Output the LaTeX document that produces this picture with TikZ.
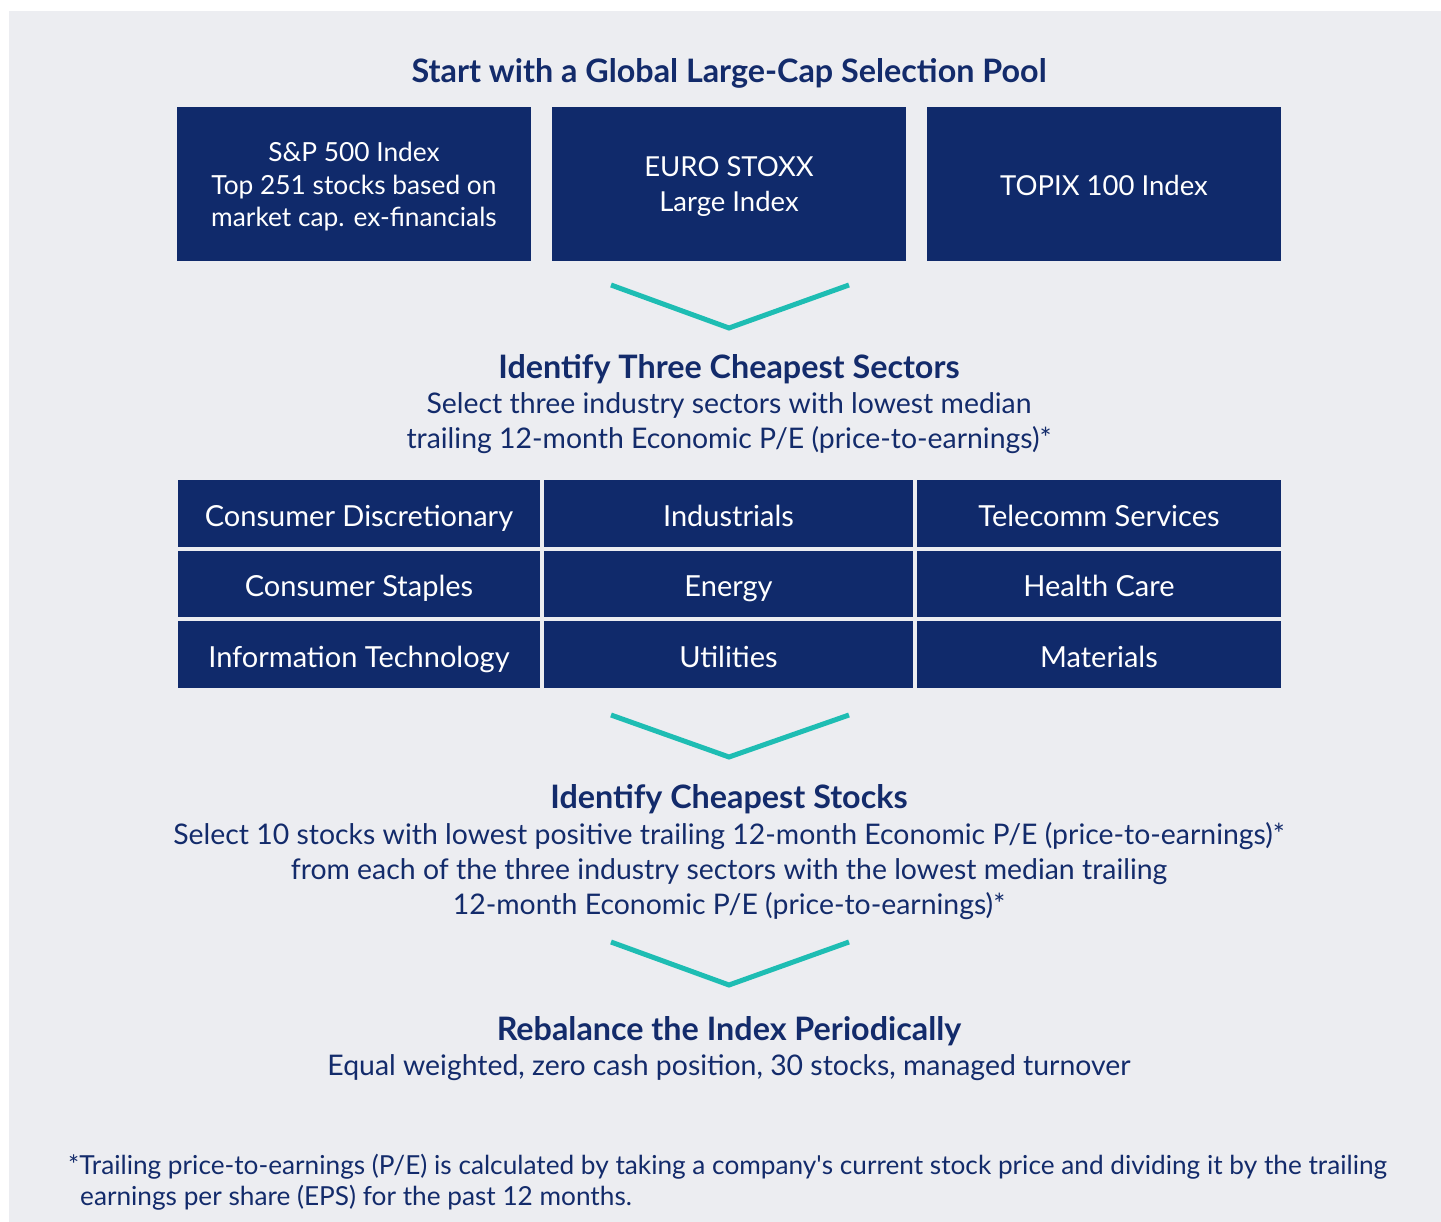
\documentclass[tikz,border=0pt]{standalone}
\usepackage{fontspec}
\setmainfont{Lato}
\definecolor{bgc}{HTML}{ECEDF1}
\definecolor{navy}{HTML}{102A6B}
\definecolor{teal}{HTML}{1EBDB3}
\definecolor{txt}{HTML}{132B6B}
\tikzset{
  topbox/.style={fill=navy, minimum width=354pt, minimum height=154pt, inner sep=0pt},
  boxtext/.style={text=white, inner sep=0pt, align=center, font=\fontsize{27.5}{35}\selectfont},
  cell/.style={fill=navy, text=white, inner sep=0pt, text height=25pt, text depth=0pt, font=\fontsize{29}{33}\selectfont},
  heading/.style={text=txt, inner sep=0pt, font=\bfseries\fontsize{32.3}{35}\selectfont},
  body/.style={text=txt, inner sep=0pt, align=center, font=\fontsize{28.4}{35}\selectfont},
  chev/.style={draw=teal, line width=5pt},
  note/.style={text=txt, inner sep=0pt, align=left, font=\fontsize{26.2}{31}\selectfont}
}
\begin{document}
\begin{tikzpicture}[x=1pt,y=-1pt]
\useasboundingbox (0,0) rectangle (1441,1222);
\fill[white] (0,0) rectangle (1441,1222);
\fill[bgc] (9,11) rectangle (1441,1222);

\node[heading] (h1) at (729,73) {Start with a Global Large-Cap Selection Pool};
\node[topbox] (b1) at (354,184) {};
\node[topbox] (b2) at (729,184) {};
\node[topbox] (b3) at (1104,184) {};
\node[boxtext, font=\fontsize{26.3}{32.5}\selectfont] (b1t) at (b1.center) [yshift=-3pt] {S\&P 500 Index\\Top 251 stocks based on\\market cap. ex-financials};
\node[boxtext] (b2t) at (b2.center) [yshift=-3pt] {EURO STOXX\\Large Index};
\node[boxtext] (b3t) at (b3.center) [yshift=-1pt] {TOPIX 100 Index};

\coordinate (c1a) at (611,285); \coordinate (c1b) at (729,328); \coordinate (c1c) at (849,285);
\draw[chev] (c1a) -- (c1b) -- (c1c);

\node[heading] (h2) at (729,369) {Identify Three Cheapest Sectors};
\node[body] (t2) at (729,423) {Select three industry sectors with lowest median\\trailing 12-month Economic P/E (price-to-earnings)*};

% grid
\foreach \name/\txt/\xa/\xb/\ya/\yb in {
  g11/Consumer Discretionary/178/540/480/547,
  g12/Industrials/544/913/480/547,
  g13/Telecomm Services/917/1281/480/547,
  g21/Consumer Staples/178/540/551/617,
  g22/Energy/544/913/551/617,
  g23/Health Care/917/1281/551/617,
  g31/Information Technology/178/540/621/688,
  g32/Utilities/544/913/621/688,
  g33/Materials/917/1281/621/688}{
  \node[cell, minimum width={(\xb-\xa)*1pt}, minimum height={(\yb-\ya)*1pt}] (\name) at ({(\xa+\xb)/2},{(\ya+\yb)/2}) {\txt};
}

\coordinate (c2a) at (611,715); \coordinate (c2b) at (729,757); \coordinate (c2c) at (849,715);
\draw[chev] (c2a) -- (c2b) -- (c2c);

\node[heading] (h3) at (729,799) {Identify Cheapest Stocks};
\node[body] (t3) at (729,871) {Select 10 stocks with lowest positive trailing 12-month Economic P/E (price-to-earnings)*\\from each of the three industry sectors with the lowest median trailing\\12-month Economic P/E (price-to-earnings)*};

\coordinate (c3a) at (611,942); \coordinate (c3b) at (729,985); \coordinate (c3c) at (849,942);
\draw[chev] (c3a) -- (c3b) -- (c3c);

\node[heading] (h4) at (729,1031) {Rebalance the Index Periodically};
\node[body] (t4) at (729,1068) {Equal weighted, zero cash position, 30 stocks, managed turnover};

\node[note, anchor=west] (n1) at (68,1167) {*Trailing price-to-earnings (P/E) is calculated by taking a company\textquotesingle s current stock price and dividing it by the trailing};
\node[note, anchor=west] (n2) at (80,1198) {earnings per share (EPS) for the past 12 months.};
\end{tikzpicture}
\end{document}
